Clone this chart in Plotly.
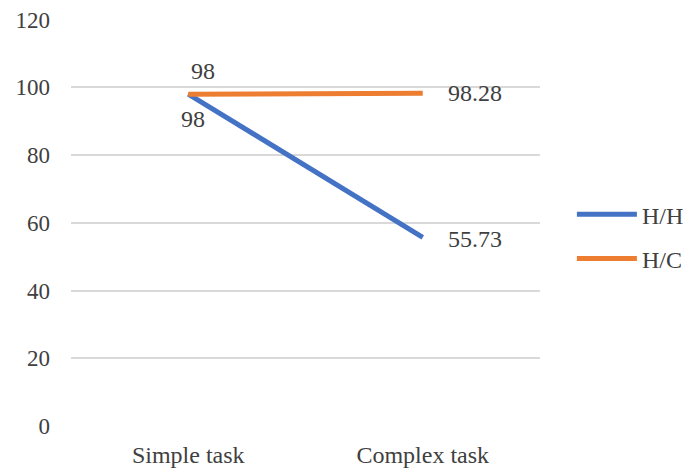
import plotly.graph_objects as go

categories = ["Simple task", "Complex task"]
hh_values = [98, 55.73]
hc_values = [98, 98.28]
hh_labels = ["98", "55.73"]
hc_labels = ["98", "98.28"]
y_ticks = [0, 20, 40, 60, 80, 100, 120]
series_names = ["H/H", "H/C"]

FONT = "Times New Roman, Liberation Serif, serif"
TXT = "#404040"
BLUE = "#4472C4"
ORANGE = "#ED7D31"

fig = go.Figure()
fig.add_trace(go.Scatter(x=categories, y=hh_values, mode="lines", name=series_names[0],
                         legendgroup="a", line=dict(color=BLUE, width=5)))
fig.add_trace(go.Scatter(x=categories, y=hc_values, mode="lines", name=series_names[1],
                         legendgroup="b", line=dict(color=ORANGE, width=5)))

# data labels
hh_shift = [(5, -25), (52, -2)]
hc_shift = [(15, 23), (52, 0)]
for c, v, t, (dx, dy) in zip(categories, hh_values, hh_labels, hh_shift):
    fig.add_annotation(x=c, y=v, text=t, showarrow=False, xshift=dx, yshift=dy,
                       font=dict(family=FONT, size=24, color=TXT))
for c, v, t, (dx, dy) in zip(categories, hc_values, hc_labels, hc_shift):
    fig.add_annotation(x=c, y=v, text=t, showarrow=False, xshift=dx, yshift=dy,
                       font=dict(family=FONT, size=24, color=TXT))

fig.update_layout(
    width=684, height=470,
    margin=dict(l=71, r=144, t=19, b=44, autoexpand=False),
    paper_bgcolor="white", plot_bgcolor="white",
    font=dict(family=FONT, size=24, color=TXT),
    showlegend=True,
    legend=dict(x=1.068, y=0.465, xanchor="left", yanchor="middle",
                font=dict(family=FONT, size=24, color=TXT),
                itemwidth=60, tracegroupgap=10, bgcolor="rgba(0,0,0,0)"),
    xaxis=dict(range=[-0.5, 1.5], showgrid=False, showline=False, zeroline=False,
               ticks="", ticklabelstandoff=12, automargin=False,
               tickfont=dict(family=FONT, size=24, color=TXT)),
    yaxis=dict(range=[0, 120.2], tickvals=y_ticks, showgrid=True,
               gridcolor="#D9D9D9", gridwidth=1.5, zeroline=False,
               showline=False, ticks="", ticklabelstandoff=20, automargin=False,
               ticklabeloverflow="allow",
               tickfont=dict(family=FONT, size=23, color=TXT)),
)

fig.write_html("out.html",
               config={"displayModeBar": False},
               post_script="document.body.style.margin='0px';document.body.style.overflow='hidden';")
